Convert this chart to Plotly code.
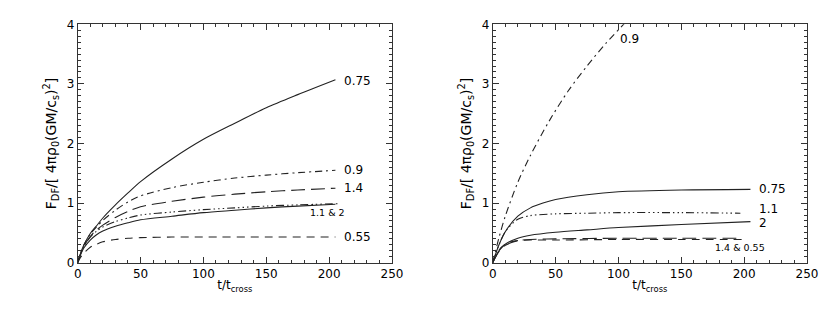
import plotly.graph_objects as go

# ---------------- data ----------------
# Left panel
tL_075 = [0, 2, 5, 10, 15, 20, 30, 40, 50, 75, 100, 125, 150, 175, 205]
yL_075 = [0, 0.14, 0.3, 0.49, 0.62, 0.75, 0.97, 1.17, 1.36, 1.74, 2.07, 2.34, 2.6, 2.82, 3.07]
tL_09 = [0, 2, 5, 10, 15, 20, 30, 40, 50, 75, 100, 125, 150, 175, 205]
yL_09 = [0, 0.14, 0.3, 0.48, 0.6, 0.71, 0.88, 1.02, 1.12, 1.26, 1.35, 1.42, 1.47, 1.51, 1.55]
tL_14 = [0, 2, 5, 10, 15, 20, 30, 40, 50, 75, 100, 125, 150, 175, 205]
yL_14 = [0, 0.13, 0.28, 0.44, 0.55, 0.63, 0.76, 0.86, 0.94, 1.03, 1.1, 1.15, 1.19, 1.22, 1.25]
tL_11 = [0, 2, 5, 10, 15, 20, 30, 40, 50, 75, 100, 125, 150, 175, 207]
yL_11 = [0, 0.13, 0.28, 0.43, 0.53, 0.6, 0.69, 0.75, 0.8, 0.85, 0.89, 0.92, 0.95, 0.97, 0.99]
tL_2 = [0, 2, 5, 10, 15, 20, 30, 40, 50, 75, 100, 125, 150, 175, 205]
yL_2 = [0, 0.12, 0.25, 0.38, 0.47, 0.53, 0.61, 0.67, 0.72, 0.78, 0.84, 0.88, 0.92, 0.95, 0.98]
tL_055 = [0, 2, 5, 10, 15, 20, 30, 40, 50, 75, 100, 150, 205]
yL_055 = [0, 0.08, 0.16, 0.26, 0.31, 0.35, 0.39, 0.41, 0.42, 0.43, 0.43, 0.43, 0.43]

# Right panel
tR_09 = [0, 5, 10, 20, 30, 45, 60, 75, 90, 105]
yR_09 = [0, 0.42, 0.78, 1.35, 1.8, 2.38, 2.88, 3.3, 3.68, 4.02]
tR_075 = [0, 5, 10, 20, 30, 40, 50, 75, 100, 150, 205]
yR_075 = [0, 0.3, 0.52, 0.78, 0.92, 1.0, 1.06, 1.14, 1.19, 1.22, 1.23]
tR_11 = [0, 5, 10, 20, 30, 50, 75, 100, 150, 197]
yR_11 = [0, 0.3, 0.52, 0.73, 0.79, 0.82, 0.83, 0.84, 0.84, 0.83]
tR_2 = [0, 5, 10, 20, 30, 50, 75, 100, 150, 205]
yR_2 = [0, 0.2, 0.31, 0.41, 0.46, 0.51, 0.55, 0.59, 0.64, 0.69]
tR_14 = [0, 5, 10, 15, 20, 30, 50, 100, 150, 198]
yR_14 = [0, 0.19, 0.29, 0.34, 0.37, 0.39, 0.4, 0.41, 0.41, 0.41]
tR_055 = [0, 5, 10, 15, 20, 30, 50, 100, 150, 198]
yR_055 = [0, 0.21, 0.31, 0.35, 0.37, 0.38, 0.38, 0.39, 0.39, 0.39]

x_ticks = [0, 50, 100, 150, 200, 250]
y_ticks = [0, 1, 2, 3, 4]

# labels: (text, x, y, size)
labels_L = [("0.75", 210, 3.05, 12), ("0.9", 210, 1.55, 12), ("1.4", 210, 1.25, 12),
            ("1.1 &amp; 2", 183, 0.85, 9.5), ("0.55", 210, 0.43, 12)]
labels_R = [("0.9", 100, 3.75, 12), ("0.75", 210, 1.24, 12), ("1.1", 210, 0.9, 12),
            ("2", 210, 0.67, 12), ("1.4 &amp; 0.55", 175, 0.26, 9.5)]

# ---------------- styles ----------------
LC = "#222222"
LW = 1.1
DASH_DOT = "7px,4px,2px,4px"
LONG_DASH = "14px,6px"
DASH_3DOT = "8px,3px,1.5px,3px,1.5px,3px,1.5px,3px"
DASHED = "8px,6px"
TXT = "#000000"

# page has an 8px body margin: figure is 814x296 placed at (8, 8)
W, H, OFF = 814, 296, 8

fig = go.Figure()

def add(t, y, dash, xa, ya):
    fig.add_trace(go.Scatter(x=t, y=y, mode="lines", xaxis=xa, yaxis=ya,
                             line=dict(color=LC, width=LW, dash=dash, shape="spline", smoothing=0.8),
                             showlegend=False, hoverinfo="skip"))

add(tL_075, yL_075, "solid", "x", "y")
add(tL_09, yL_09, DASH_DOT, "x", "y")
add(tL_14, yL_14, LONG_DASH, "x", "y")
add(tL_11, yL_11, DASH_3DOT, "x", "y")
add(tL_2, yL_2, "solid", "x", "y")
add(tL_055, yL_055, DASHED, "x", "y")

add(tR_09, yR_09, DASH_DOT, "x2", "y2")
add(tR_075, yR_075, "solid", "x2", "y2")
add(tR_11, yR_11, DASH_3DOT, "x2", "y2")
add(tR_2, yR_2, "solid", "x2", "y2")
add(tR_14, yR_14, LONG_DASH, "x2", "y2")
add(tR_055, yR_055, DASHED, "x2", "y2")

FONT = "DejaVu Sans"
ax_common = dict(showline=True, linecolor="#333333", linewidth=1, mirror="ticks",
                 ticks="inside", ticklen=6, tickcolor="#333333", tickwidth=1,
                 showgrid=False, zeroline=False, automargin=False,
                 tickfont=dict(family=FONT, size=12, color=TXT))

xa = dict(ax_common, range=[0, 250], tickvals=x_ticks, ticktext=[str(v) for v in x_ticks],
          minor=dict(ticks="inside", ticklen=3, dtick=10, tickcolor="#333333", showgrid=False),
          title=dict(text="t/t<sub>cross</sub>", font=dict(family=FONT, size=12, color=TXT), standoff=0))
ya = dict(ax_common, range=[0, 4], tickvals=y_ticks, ticktext=[str(v) for v in y_ticks],
          minor=dict(ticks="inside", ticklen=3, dtick=0.1, tickcolor="#333333", showgrid=False),
          title=dict(text="F<sub>DF</sub>/[ 4πρ<sub>0</sub>(GM/c<sub>s</sub>)<sup>2</sup>]",
                     font=dict(family=FONT, size=14, color=TXT), standoff=6))

def xd(a, b):
    return [(a - OFF) / W, (b - OFF) / W]

ydom = [1 - (262.7 - OFF) / H, 1 - (24.3 - OFF) / H]
fig.update_layout(
    width=W, height=H,
    margin=dict(l=0, r=0, t=0, b=0),
    paper_bgcolor="white", plot_bgcolor="white",
    xaxis=dict(xa, domain=xd(77.7, 392), anchor="y"),
    yaxis=dict(ya, domain=ydom, anchor="x"),
    xaxis2=dict(xa, domain=xd(492.7, 807), anchor="y2"),
    yaxis2=dict(ya, domain=ydom, anchor="x2"),
)

annots = []
for txt, x, y, s in labels_L:
    annots.append(dict(text=txt, x=x, y=y, xref="x", yref="y", xanchor="left", yanchor="middle",
                       showarrow=False, font=dict(family=FONT, size=s, color=TXT)))
for txt, x, y, s in labels_R:
    annots.append(dict(text=txt, x=x, y=y, xref="x2", yref="y2", xanchor="left", yanchor="middle",
                       showarrow=False, font=dict(family=FONT, size=s, color=TXT)))
fig.update_layout(annotations=annots)

fig.write_html("out.html")
